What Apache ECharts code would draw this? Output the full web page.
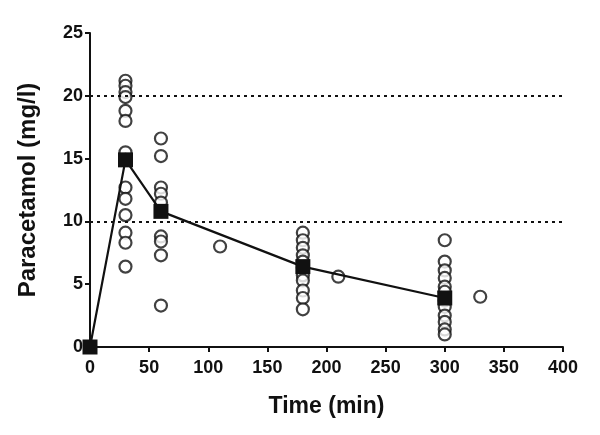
<!DOCTYPE html>
<html>
<head>
<meta charset="utf-8">
<script src="https://cdn.jsdelivr.net/npm/echarts@6/dist/echarts.min.js"></script>
<style>html,body{margin:0;padding:0;background:#fff;}#c{width:600px;height:435px;}</style>
</head>
<body>
<div id="c"></div>
<script>
// Individual observations by sampling time (min) -> paracetamol (mg/l)
var obsTimes = [30, 60, 110, 180, 210, 300, 330];
var obs30 = [21.2, 20.8, 20.3, 19.9, 18.8, 18.0, 15.5, 14.9, 12.7, 11.8, 10.5, 9.1, 8.3, 6.4];
var obs60 = [16.6, 15.2, 12.7, 12.2, 11.5, 8.8, 8.4, 7.3, 3.3];
var obs110 = [8.0];
var obs180 = [9.1, 8.5, 7.9, 7.3, 6.8, 6.3, 5.7, 5.3, 4.5, 3.9, 3.0];
var obs210 = [5.6];
var obs300 = [8.5, 6.8, 6.1, 5.5, 4.8, 4.4, 3.7, 3.2, 2.5, 2.0, 1.4, 1.0];
var obs330 = [4.0];
// Mean profile
var meanTimes = [0, 30, 60, 180, 300];
var meanConc = [0, 14.9, 10.8, 6.4, 3.9];
// Reference lines
var refLevels = [10, 20];
var xTicks = [0, 50, 100, 150, 200, 250, 300, 350, 400];
var yTicks = [0, 5, 10, 15, 20, 25];

var groups = [obs30, obs60, obs110, obs180, obs210, obs300, obs330];
var scatterData = [];
groups.forEach(function (g, i) {
  g.forEach(function (v) { scatterData.push([obsTimes[i], v]); });
});
var meanData = meanTimes.map(function (t, i) { return [t, meanConc[i]]; });

var font = 'Liberation Sans, Arial, sans-serif';
var chart = echarts.init(document.getElementById('c'));
chart.setOption({
  animation: false,
  backgroundColor: '#fff',
  grid: { left: 90, right: 37, top: 33, bottom: 88 },
  xAxis: {
    type: 'value', min: 0, max: 400, interval: 50,
    name: 'Time (min)', nameLocation: 'middle', nameGap: 48,
    nameTextStyle: { fontFamily: font, fontWeight: 'bold', fontSize: 23, color: '#111' },
    axisLine: { lineStyle: { color: '#111', width: 2 } },
    axisTick: { length: 5, lineStyle: { color: '#111', width: 2 } },
    axisLabel: { fontFamily: font, fontWeight: 'bold', fontSize: 18, color: '#111', margin: 12 },
    splitLine: { show: false }
  },
  yAxis: {
    type: 'value', min: 0, max: 25, interval: 5,
    name: 'Paracetamol (mg/l)', nameLocation: 'middle', nameGap: 50,
    nameTextStyle: { fontFamily: font, fontWeight: 'bold', fontSize: 24, color: '#111' },
    axisLine: { lineStyle: { color: '#111', width: 2 } },
    axisTick: { length: 5, lineStyle: { color: '#111', width: 2 } },
    axisLabel: { fontFamily: font, fontWeight: 'bold', fontSize: 18, color: '#111', margin: 7 },
    splitLine: { show: false }
  },
  series: [
    {
      type: 'scatter',
      data: scatterData,
      symbol: 'circle',
      symbolSize: 12,
      itemStyle: { color: '#fff', borderColor: '#111', borderWidth: 2.2 },
      markLine: {
        silent: true,
        symbol: ['none', 'none'],
        label: { show: false },
        lineStyle: { color: '#111', type: [3, 4], width: 2 },
        data: refLevels.map(function (v) { return { yAxis: v }; })
      },
      z: 3
    },
    {
      type: 'line',
      data: meanData,
      symbol: 'rect',
      symbolSize: 15,
      itemStyle: { color: '#111' },
      lineStyle: { color: '#111', width: 2.2 },
      z: 4
    }
  ]
});
</script>
</body>
</html>
